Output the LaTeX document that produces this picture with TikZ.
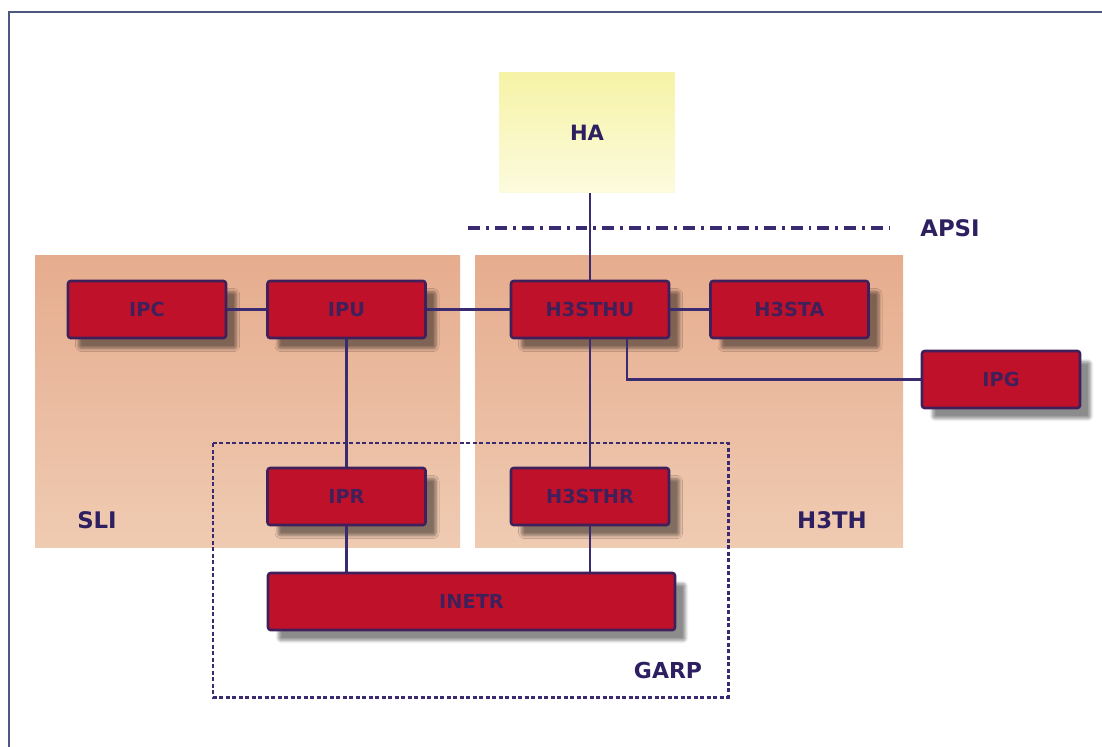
\documentclass[tikz,border=0pt]{standalone}
\usepackage{fontspec}
\setsansfont{DejaVu Sans}
\usepackage{xcolor}
\definecolor{boxred}{HTML}{C0112B}
\definecolor{boxline}{HTML}{40205A}
\definecolor{ink}{HTML}{2E2060}
\definecolor{wirecol}{HTML}{3A2A70}
\definecolor{framecol}{HTML}{4B5880}
\definecolor{paneltop}{HTML}{E6AC8E}
\definecolor{panelbot}{HTML}{EFCBB2}
\definecolor{hatop}{HTML}{F6F3A6}
\definecolor{habot}{HTML}{FCFBDE}
\usetikzlibrary{calc,positioning,shadows.blur}

\begin{document}
\begin{tikzpicture}[
			x=0.02cm,
			y=-0.02cm,
			unit/.style={draw=boxline, line width=1.5pt, fill=boxred, rounded corners=1.5pt,
				minimum width=3.16cm, minimum height=1.14cm, inner sep=0pt, text=boxline,
				font=\sffamily\bfseries\fontsize{11}{13}\selectfont,
				blur shadow={shadow xshift=6pt, shadow yshift=-6pt, shadow blur steps=6, shadow opacity=45}},
			panel/.style={top color=paneltop, bottom color=panelbot, draw=none},
			tag/.style={text=ink, font=\sffamily\bfseries\fontsize{13}{15}\selectfont},
			wire/.style={draw=wirecol, line width=1.5pt}
		]
			\useasboundingbox (0,0) rectangle (1102,747);

			% Frame (top and left edge only)
			\draw[framecol, line width=1.5pt] (9,747) -- (9,12) -- (1102,12);

			% Layer panels
			\fill[panel] (35,255) rectangle (460,547);
			\fill[panel] (475,255) rectangle (903,547);
			\node[tag] (sli) at (97,520) {SLI};
			\node[tag] (h3th) at (832,520) {H3TH};

			% Application on top
			\node[top color=hatop, bottom color=habot, minimum width=3.52cm, minimum height=2.42cm,
				inner sep=0pt, text=ink, font=\sffamily\bfseries\fontsize{12}{14}\selectfont] (HA) at (587,132.5) {HA};

			% APSI interface
			\coordinate (apsiL) at (468,228);
			\coordinate (apsiR) at (890,228);
			\draw[wirecol, line width=1.8pt, dash pattern=on 6.8pt off 3.4pt on 1.7pt off 3.4pt] (apsiL) -- (apsiR);
			\node[tag] (apsi) at (950,228) {APSI};

			% Units
			\node[unit] (IPC) at (147,309.5) {IPC};
			\node[unit] (IPU) at (346.5,309.5) {IPU};
			\node[unit] (H3STHU) at (590,309.5) {H3STHU};
			\node[unit] (H3STA) at (789.5,309.5) {H3STA};
			\node[unit] (IPG) at (1001,379.5) {IPG};
			\node[unit] (IPR) at (346.5,496.5) {IPR};
			\node[unit] (H3STHR) at (590,496.5) {H3STHR};
			\node[unit, minimum width=8.14cm] (INETR) at (471.5,601.5) {INETR};

			% Connections
			\draw[wire] (H3STHU.north) -- (H3STHU.north |- HA.south);
			\draw[wire] (IPC.east) -- (IPU.west);
			\draw[wire] (IPU.east) -- (H3STHU.west);
			\draw[wire] (H3STHU.east) -- (H3STA.west);
			\draw[wire] (IPU.south) -- (IPR.north);
			\draw[wire] (IPR.south) -- (IPR.south |- INETR.north);
			\draw[wire] (H3STHU.south) -- (H3STHR.north);
			\draw[wire] (H3STHR.south) -- (H3STHR.south |- INETR.north);
			\draw[wire] ([xshift=0.74cm]H3STHU.south) |- (IPG.west);

			% GARP domain
			\coordinate (garpNW) at (213,443);
			\coordinate (garpSE) at (728,697);
			\draw[wirecol, line width=1.7pt, dash pattern=on 2.4pt off 1.3pt] (garpNW) rectangle (garpSE);
			\node[tag, font=\sffamily\bfseries\fontsize{12.5}{15}\selectfont] (garp) at (668,670) {GARP};
		\end{tikzpicture}
\end{document}
